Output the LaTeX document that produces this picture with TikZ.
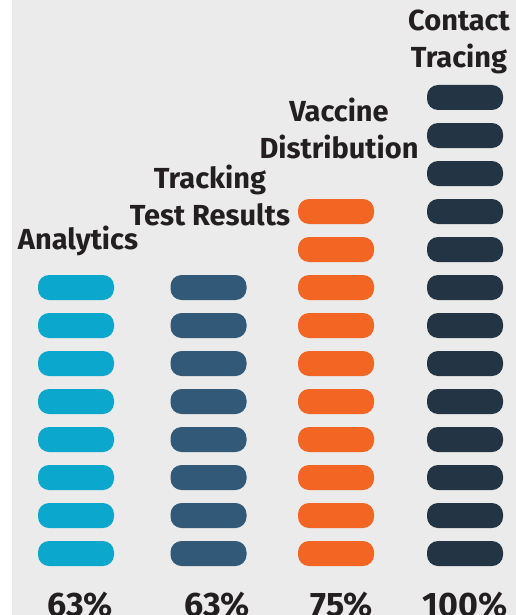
\documentclass[tikz,border=0pt]{standalone}
\usepackage{fontspec}
\setmainfont{Fira Sans}
\usetikzlibrary{positioning}
\definecolor{bgGray}{HTML}{EAEBEA}
\definecolor{cyanPill}{HTML}{0BA7CC}
\definecolor{steelPill}{HTML}{325A78}
\definecolor{orangePill}{HTML}{F26522}
\definecolor{navyPill}{HTML}{233544}
\definecolor{inkText}{HTML}{231F20}
\def\pillstack[#1](#2)(#3){\foreach \k in {1,...,#3}{\fill[#1, rounded corners=11pt] ({#2-38}, {541-38*(\k-1)}) rectangle ({#2+38}, {566-38*(\k-1)});}}

\begin{document}
\begin{tikzpicture}[x=1pt, y=-1pt,
		catlabel/.style={inkText, font=\bfseries\fontsize{29}{37}\selectfont, align=center, anchor=base, inner sep=0pt},
		pctlabel/.style={inkText, font=\bfseries\fontsize{34}{36}\selectfont, anchor=base, inner sep=0pt}]
		%%%%% START %%%%%
		
		\useasboundingbox (0, 0) rectangle (516, 615);
		\fill[white] (0, 0) rectangle (516, 615);
		\fill[bgGray] (12, 0) rectangle (516, 615);
		
		\pillstack[cyanPill](76)(8)
		\pillstack[steelPill](208.5)(8)
		\pillstack[orangePill](336)(10)
		\pillstack[navyPill](465)(13)
		
		% base anchor sits on the last line
		\node[catlabel] (analytics) at (78, 249) {Analytics};
		\node[catlabel] (tracking) at (210, 225) {Tracking\\Test Results};
		\node[catlabel] (vaccine) at (339, 158) {Vaccine\\Distribution};
		\node[catlabel] (contact) at (459, 68) {Contact\\Tracing};
		
		\node[pctlabel] (pctA) at (80, 616) {63\%};
		\node[pctlabel] (pctB) at (217, 616) {63\%};
		\node[pctlabel] (pctC) at (342, 616) {75\%};
		\node[pctlabel] (pctD) at (465, 616) {100\%};
		
		%%%%% END %%%%%
\end{tikzpicture}
\end{document}
